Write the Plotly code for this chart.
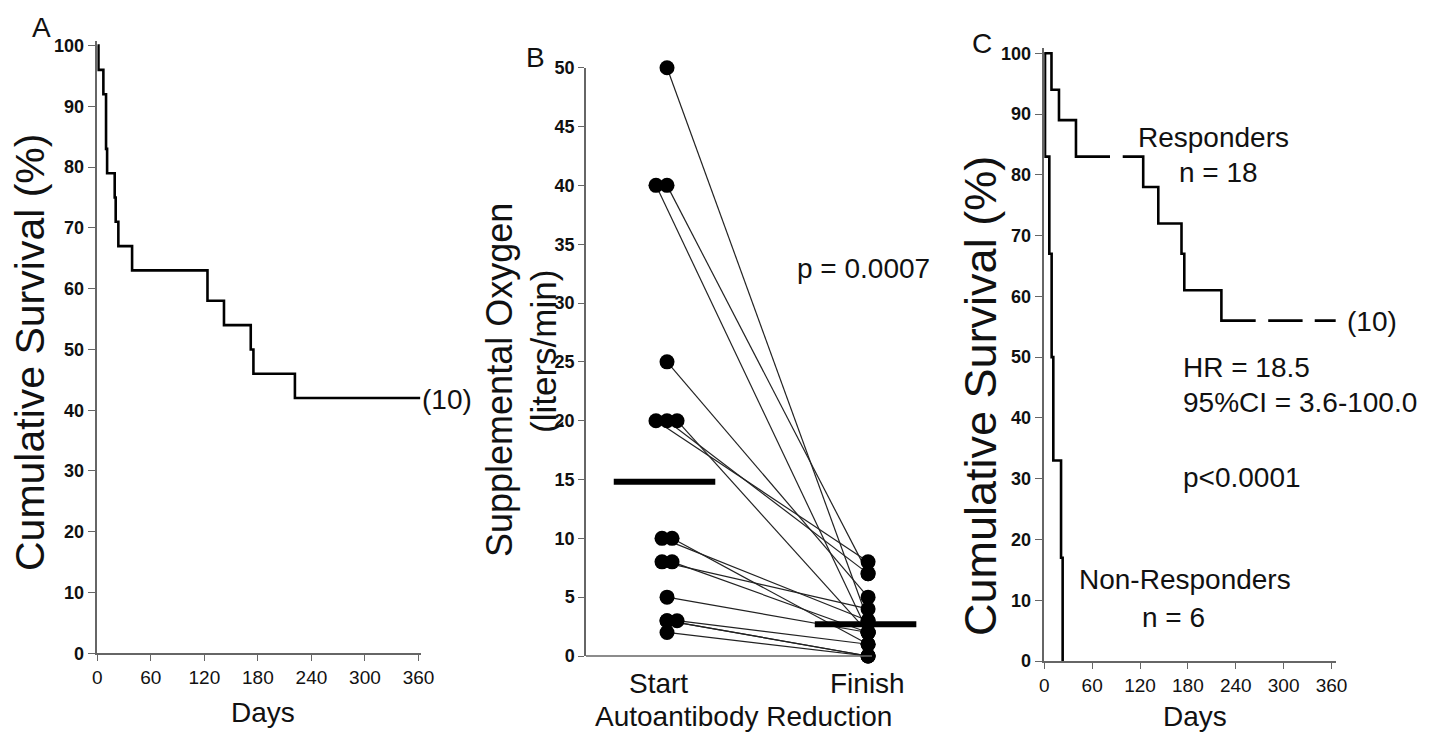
import plotly.graph_objects as go

W, H = 1442, 734
FONT = "Liberation Sans, Arial, sans-serif"
TXT = "#111111"
AX = "#666666"

# ---------------- Data ----------------
# Panel A: overall Kaplan-Meier survival (days, % surviving)
a_days = [0, 1.3, 6.8, 9.8, 11, 19.5, 20.6, 23.6, 39, 123.5, 142, 172, 175, 221.5, 362]
a_surv = [100, 96, 92, 83, 79, 75, 71, 67, 63, 58, 54, 50, 46, 42, 42]

# Panel B: supplemental oxygen (liters/min) at start and finish of autoantibody reduction
o2_start = [50, 40, 40, 25, 20, 20, 20, 10, 10, 8, 8, 5, 3, 3, 3, 2]
o2_finish = [3, 2, 7, 5, 8, 7, 2, 3, 1, 4, 2, 2, 0, 1, 0, 0]
start_jitter = [0, -0.055, 0, 0, -0.055, 0, 0.05, -0.025, 0.025, -0.025, 0.025, 0, 0, 0.05, 0, 0]
b_categories = ["Start", "Finish"]
b_means = [14.8, 2.7]

# Panel C: responders vs non-responders (None = censoring gaps)
resp_days = [0, 9, 18.4, 39.7, 82.4, None, 98.3, 124, 142.9, 172, 175.5, 222, 265, None, 280.7, 323.8, None, 339, 366]
resp_surv = [100, 94, 89, 83, 83, None, 83, 78, 72, 67, 61, 56, 56, None, 56, 56, None, 56, 56]
nonresp_days = [0, 0.9, 6.3, 9.2, 11.3, 21, 23]
nonresp_surv = [100, 83, 67, 50, 33, 17, 0]

day_ticks = [0, 60, 120, 180, 240, 300, 360]
surv_ticks = list(range(0, 101, 10))
o2_ticks = list(range(0, 51, 5))


def px(x):
    return x / W


def py(y):
    return 1 - y / H


fig = go.Figure()

# ---- Panel A ----
fig.add_trace(go.Scatter(x=a_days, y=a_surv, mode="lines", line=dict(color="black", width=2.6, shape="hv"),
                         xaxis="x", yaxis="y", showlegend=False, hoverinfo="skip"))

# ---- Panel B ----
lx, ly = [], []
for i, (s, f) in enumerate(zip(o2_start, o2_finish)):
    lx += [0 + start_jitter[i], 1, None]
    ly += [s, f, None]
fig.add_trace(go.Scatter(x=lx, y=ly, mode="lines", line=dict(color="#222222", width=1.2),
                         xaxis="x2", yaxis="y2", showlegend=False, hoverinfo="skip"))
fig.add_trace(go.Scatter(x=[0 + j for j in start_jitter], y=o2_start, mode="markers",
                         marker=dict(color="black", size=15), cliponaxis=False,
                         xaxis="x2", yaxis="y2", showlegend=False))
fig.add_trace(go.Scatter(x=[1] * len(o2_finish), y=o2_finish, mode="markers",
                         marker=dict(color="black", size=15), cliponaxis=False,
                         xaxis="x2", yaxis="y2", showlegend=False))
bar_left, bar_right = 0.265, 0.24
for k, m in enumerate(b_means):
    fig.add_trace(go.Scatter(x=[k - bar_left, k + bar_right], y=[m, m], mode="lines",
                             line=dict(color="black", width=6), xaxis="x2", yaxis="y2",
                             showlegend=False, hoverinfo="skip"))

# ---- Panel C ----
fig.add_trace(go.Scatter(x=resp_days, y=resp_surv, mode="lines", connectgaps=False,
                         line=dict(color="black", width=2.6, shape="hv"),
                         xaxis="x3", yaxis="y3", showlegend=False, hoverinfo="skip"))
fig.add_trace(go.Scatter(x=nonresp_days, y=nonresp_surv, mode="lines",
                         line=dict(color="black", width=2.6, shape="hv"),
                         xaxis="x3", yaxis="y3", showlegend=False, hoverinfo="skip"))

tick_x = dict(family=FONT, size=19, color=TXT)
tick_y = dict(family=FONT, size=18, color=TXT, weight="bold")
common = dict(showgrid=False, zeroline=False, showline=True, linecolor=AX, linewidth=1.5,
              ticks="outside", tickcolor=AX, tickwidth=1.2, automargin=False)

fig.update_layout(
    width=W, height=H, margin=dict(l=0, r=0, t=0, b=0, autoexpand=False),
    paper_bgcolor="white", plot_bgcolor="white",
    xaxis=dict(domain=[px(97.3), px(420.7)], range=[0, 362.5], anchor="y",
               tickvals=day_ticks, ticklen=6, tickfont=tick_x, **common),
    yaxis=dict(domain=[py(653.3), py(40.7)], range=[0, 100.8], anchor="x",
               tickvals=surv_ticks, ticklen=8, tickfont=tick_y, **common),
    xaxis2=dict(domain=[px(586), px(930)], range=[-0.403, 1.308], anchor="y2", automargin=False,
                showgrid=False, zeroline=False, showline=False, showticklabels=False, ticks=""),
    yaxis2=dict(domain=[py(656), py(67.7)], range=[0, 50], anchor="x2",
                tickvals=o2_ticks, ticklen=6, tickfont=tick_y, **common),
    xaxis3=dict(domain=[px(1044.3), px(1335.7)], range=[0, 365.3], anchor="y3",
                tickvals=day_ticks, ticklen=6, tickfont=tick_x, **common),
    yaxis3=dict(domain=[py(661), py(48.4)], range=[0, 100.8], anchor="x3",
                tickvals=surv_ticks, ticklen=8, tickfont=tick_y, **common),
)

# Panel B baseline
fig.add_shape(type="line", xref="paper", yref="paper", x0=px(586), x1=px(872), y0=py(656), y1=py(656),
              line=dict(color=AX, width=1.5))


def ann(text, x, y, size=28, angle=0, xanchor="center"):
    fig.add_annotation(text=text, x=px(x), y=py(y), xref="paper", yref="paper", showarrow=False,
                       font=dict(family=FONT, size=size, color=TXT), textangle=angle,
                       xanchor=xanchor, yanchor="middle")


# Panel A texts
ann("A", 41, 27)
ann("Cumulative Survival (%)", 30, 353, size=41, angle=-90)
ann("Days", 263, 712)
ann("(10)", 420, 399, xanchor="left")

# Panel B texts
ann("B", 535, 58)
ann("Supplemental Oxygen", 499, 380, size=36, angle=-90)
ann("(liters/min)", 543, 352, size=35, angle=-90)
ann("p = 0.0007", 795, 268, xanchor="left")
ann("Start", 658, 683)
ann("Finish", 868, 683)
ann("Autoantibody Reduction", 743, 716)

# Panel C texts
ann("C", 982, 43)
ann("Cumulative Survival (%)", 980, 396, size=45, angle=-90)
ann("Days", 1195, 716)
ann("Responders", 1213, 137)
ann("n = 18", 1218, 172)
ann("(10)", 1345, 321, xanchor="left")
ann("HR = 18.5", 1181, 367, xanchor="left")
ann("95%CI = 3.6-100.0", 1181, 402, xanchor="left")
ann("p<0.0001", 1181, 477, xanchor="left")
ann("Non-Responders", 1185, 579)
ann("n = 6", 1173, 617)

fig.write_html("out.html", config={"displayModeBar": False},
               post_script="document.body.style.margin='0';document.body.style.padding='0';"
                           "document.body.style.overflow='hidden';")
